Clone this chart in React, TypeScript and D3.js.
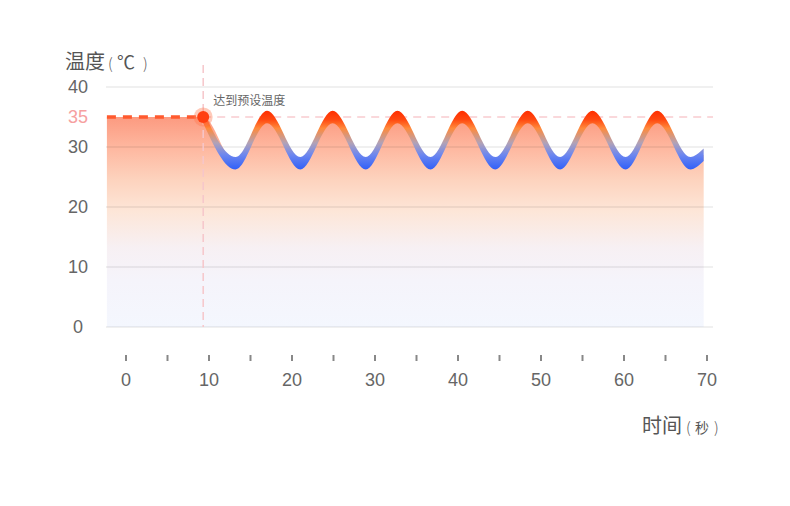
import React from 'react';
import * as d3 from 'd3';

// heating phase (dashed, flat at target) and holding phase (oscillating)
const heatTimes = [-2.3, 9.3];
const heatTemps = [35, 35];
const holdTimes = [9.3, 13.2, 17.0, 21.0, 24.9, 28.9, 32.7, 36.7, 40.5, 44.5, 48.4, 52.3, 56.2, 60.2, 64.0, 68.0, 69.6];
const holdTemps = [35, 27.3, 35, 27.3, 35, 27.3, 35, 27.3, 35, 27.3, 35, 27.3, 35, 27.3, 35, 27.3, 28.7];

const yTicks = [0, 10, 20, 30, 35, 40];
const xTicks = [0, 5, 10, 15, 20, 25, 30, 35, 40, 45, 50, 55, 60, 65, 70];
const xLabels = [0, 10, 20, 30, 40, 50, 60, 70];
const targetTemp = 35;
const reachTime = 9.3;

const W = 790;
const H = 506;
const PLOT_LEFT = 106;
const PLOT_RIGHT = 713;
const FONT = "'Noto Sans CJK SC', 'Noto Sans', sans-serif";
const NUM_FONT = "'Liberation Sans', Arial, sans-serif";

type Pt = { t: number; v: number };

const App: React.FC = () => {
  const x = d3.scaleLinear().domain([0, 70]).range([126, 707]);
  const y = d3.scaleLinear().domain([0, 40]).range([327, 87]);

  const heat: Pt[] = heatTimes.map((t, i) => ({ t, v: heatTemps[i] }));
  const hold: Pt[] = holdTimes.map((t, i) => ({ t, v: holdTemps[i] }));
  const all: Pt[] = heat.concat(hold.slice(1));

  const fillArea = d3.area<Pt>()
    .x(d => x(d.t))
    .y0(y(0))
    .y1(d => y(d.v))
    .curve(d3.curveMonotoneX);

  const half = 6.2;
  const ribbon = d3.area<Pt>()
    .x(d => x(d.t))
    .y0(d => y(d.v) + half)
    .y1(d => y(d.v) - half)
    .curve(d3.curveMonotoneX);

  const heatLine = d3.line<Pt>().x(d => x(d.t)).y(d => y(d.v));

  return (
    <svg width={W} height={H} style={{ position: 'absolute', left: 0, top: 0, background: '#fff' }}>
      <defs>
        <linearGradient id="fillGrad" gradientUnits="userSpaceOnUse" x1="0" y1={y(35)} x2="0" y2={y(0)}>
          <stop offset="0" stopColor="#fc9a80" />
          <stop offset="0.15" stopColor="#feb8a0" />
          <stop offset="0.3" stopColor="#fdd3be" />
          <stop offset="0.45" stopColor="#fde6d8" />
          <stop offset="0.62" stopColor="#f7f0f3" />
          <stop offset="0.78" stopColor="#f5f4fb" />
          <stop offset="1" stopColor="#f4f7fe" />
        </linearGradient>
        <linearGradient id="ribbonGrad" gradientUnits="userSpaceOnUse" x1="0" y1={y(35) - half} x2="0" y2={y(27.3) + half}>
          <stop offset="0" stopColor="#ff2e00" />
          <stop offset="0.15" stopColor="#ff4810" />
          <stop offset="0.3" stopColor="#ff8a3c" />
          <stop offset="0.55" stopColor="#b2a2b6" />
          <stop offset="0.75" stopColor="#6d87ef" />
          <stop offset="1" stopColor="#3160f8" />
        </linearGradient>
      </defs>

      <path d={fillArea(all) || ''} fill="url(#fillGrad)" />

      {yTicks.filter(v => v !== targetTemp).map(v => (
        <line key={v} x1={PLOT_LEFT} x2={PLOT_RIGHT} y1={y(v)} y2={y(v)}
          stroke="#000" strokeOpacity={0.08} strokeWidth={1.5} />
      ))}

      <line x1={x(reachTime)} x2={PLOT_RIGHT} y1={y(targetTemp)} y2={y(targetTemp)}
        stroke="#f9cccf" strokeWidth={1.5} strokeDasharray="8 6" />
      <line x1={x(reachTime)} x2={x(reachTime)} y1={65} y2={y(0)}
        stroke="#f6c6ca" strokeWidth={1.5} strokeDasharray="8 5" />

      <path d={heatLine(heat) || ''} fill="none" stroke="#ff5a2e" strokeWidth={3.5} strokeDasharray="9 7" />

      <path d={ribbon(hold) || ''} fill="url(#ribbonGrad)" />

      <circle cx={x(reachTime)} cy={y(targetTemp)} r={9.5} fill="#ff7a50" fillOpacity={0.4} />
      <circle cx={x(reachTime)} cy={y(targetTemp)} r={6} fill="#ff3f10" />

      <text x={x(reachTime) + 10} y={105} fontFamily={FONT} fontSize={12} fill="#666">达到预设温度</text>

      {yTicks.map(v => (
        <text key={v} x={78} y={y(v)} dy="0.36em" textAnchor="middle" fontFamily={NUM_FONT} fontSize={18}
          fill={v === targetTemp ? '#f6a0a0' : '#666'}>{v}</text>
      ))}

      {xTicks.map(v => (
        <line key={v} x1={x(v)} x2={x(v)} y1={355} y2={361} stroke="#888" strokeWidth={2} />
      ))}
      {xLabels.map(v => (
        <text key={v} x={x(v)} y={386} textAnchor="middle" fontFamily={NUM_FONT} fontSize={18} fill="#666">{v}</text>
      ))}

      <g fontFamily={FONT} fill="#555">
        <text x={65} y={69} fontSize={20}>温度</text>
        <text x={108} y={69} fontSize={15} fontWeight={300}>(</text>
        <text x={117} y={69} fontSize={18}>℃</text>
        <text x={143} y={69} fontSize={15} fontWeight={300}>)</text>

        <text x={642} y={433} fontSize={20}>时间</text>
        <text x={686} y={433} fontSize={15} fontWeight={300}>(</text>
        <text x={695} y={433} fontSize={14}>秒</text>
        <text x={714} y={433} fontSize={15} fontWeight={300}>)</text>
      </g>
    </svg>
  );
};

export default App;
